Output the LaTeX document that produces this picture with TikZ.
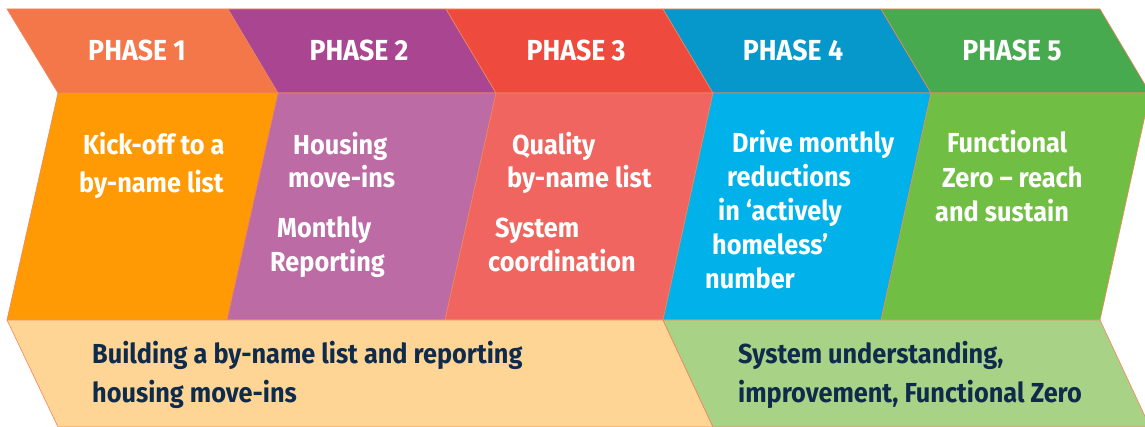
\documentclass[tikz,border=0pt]{standalone}
\usepackage{fontspec}
\setmainfont{Fira Sans}[FakeStretch=0.92]
\usepackage{tikz}
\definecolor{headA}{HTML}{F37748}
\definecolor{headB}{HTML}{AA4691}
\definecolor{headC}{HTML}{EE4B3E}
\definecolor{headD}{HTML}{0697CB}
\definecolor{headE}{HTML}{47AA4E}
\definecolor{bodyA}{HTML}{FF9A05}
\definecolor{bodyB}{HTML}{BC6BA4}
\definecolor{bodyC}{HTML}{F06560}
\definecolor{bodyD}{HTML}{00B1EA}
\definecolor{bodyE}{HTML}{71BE44}
\definecolor{bandA}{HTML}{FED594}
\definecolor{bandB}{HTML}{A8D387}
\definecolor{navy}{HTML}{0F2B4C}
\definecolor{rim}{HTML}{F0875A}
\tikzstyle{piece}=[draw=rim, line width=0.6pt, line join=miter]
\tikzstyle{phasetitle}=[anchor=base, inner sep=0pt, text=white, font=\fontsize{29}{29}\selectfont\bfseries]
\tikzstyle{phasetext}=[anchor=base west, inner sep=0pt, text=white, font=\fontsize{27.5}{27.5}\selectfont\bfseries]
\tikzstyle{bandtext}=[anchor=base west, inner sep=0pt, text=navy, font=\fontsize{27.5}{27.5}\selectfont\bfseries]
\providecommand{\phtext}{\node[phasetext]}

\begin{document}
\begin{tikzpicture}[x=1pt, y=-1pt]
\useasboundingbox (0,0) rectangle (1145,427);
\begin{scope}
\clip (0,0) rectangle (1145,427);
% header row
\filldraw[piece, fill=headA] (7,9) -- (228,9) -- (278,93) -- (58,93) -- cycle;
\filldraw[piece, fill=headB] (228,9) -- (446,9) -- (496,93) -- (278,93) -- cycle;
\filldraw[piece, fill=headC] (446,9) -- (663,9) -- (713,93) -- (496,93) -- cycle;
\filldraw[piece, fill=headD] (663,9) -- (881,9) -- (931,93) -- (713,93) -- cycle;
\filldraw[piece, fill=headE] (881,9) -- (1100,9) -- (1150,93) -- (931,93) -- cycle;
% body row
\filldraw[piece, fill=bodyA] (58,93) -- (278,93) -- (227,320) -- (7,320) -- cycle;
\filldraw[piece, fill=bodyB] (278,93) -- (496,93) -- (445,320) -- (227,320) -- cycle;
\filldraw[piece, fill=bodyC] (496,93) -- (713,93) -- (663,320) -- (445,320) -- cycle;
\filldraw[piece, fill=bodyD] (713,93) -- (931,93) -- (881,320) -- (663,320) -- cycle;
\filldraw[piece, fill=bodyE] (931,93) -- (1150,93) -- (1100,320) -- (881,320) -- cycle;
% bottom bands
\filldraw[piece, fill=bandA] (7,320) -- (663,320) -- (713,427) -- (58,427) -- cycle;
\filldraw[piece, fill=bandB] (663,320) -- (1100,320) -- (1150,427) -- (713,427) -- cycle;
\end{scope}

\node[phasetitle] (ph1) at (137,61) {PHASE 1};
\node[phasetitle] (ph2) at (359,61) {PHASE 2};
\node[phasetitle] (ph3) at (576,61) {PHASE 3};
\node[phasetitle] (ph4) at (793,61) {PHASE 4};
\node[phasetitle] (ph5) at (1012,61) {PHASE 5};

\phtext (a1) at (83,155) {Kick-off to a};
\phtext (a2) at (79,193) {by-name list};

\phtext (b1) at (293,155) {Housing};
\phtext (b2) at (288,188) {move-ins};
\phtext (b3) at (277,238) {Monthly};
\phtext (b4) at (270,272) {Reporting};

\phtext (c1) at (512,155) {Quality};
\phtext (c2) at (507,188) {by-name list};
\phtext (c3) at (495,238) {System};
\phtext (c4) at (488,272) {coordination};

\phtext (d1) at (732,153) {Drive monthly};
\phtext (d2) at (727,187) {reductions};
\phtext (d3) at (718,221) {in ‘actively};
\phtext (d4) at (712,255) {homeless’};
\phtext (d5) at (705,289) {number};

\phtext (e1) at (947,153) {Functional};
\phtext (e2) at (942,188) {Zero – reach};
\phtext (e3) at (935,222) {and sustain};

\node[bandtext] (l1) at (92,363) {Building a by-name list and reporting};
\node[bandtext] (l2) at (92,402) {housing move-ins};
\node[bandtext] (r1) at (738,363) {System understanding,};
\node[bandtext] (r2) at (738,402) {improvement, Functional Zero};
\end{tikzpicture}
\end{document}
